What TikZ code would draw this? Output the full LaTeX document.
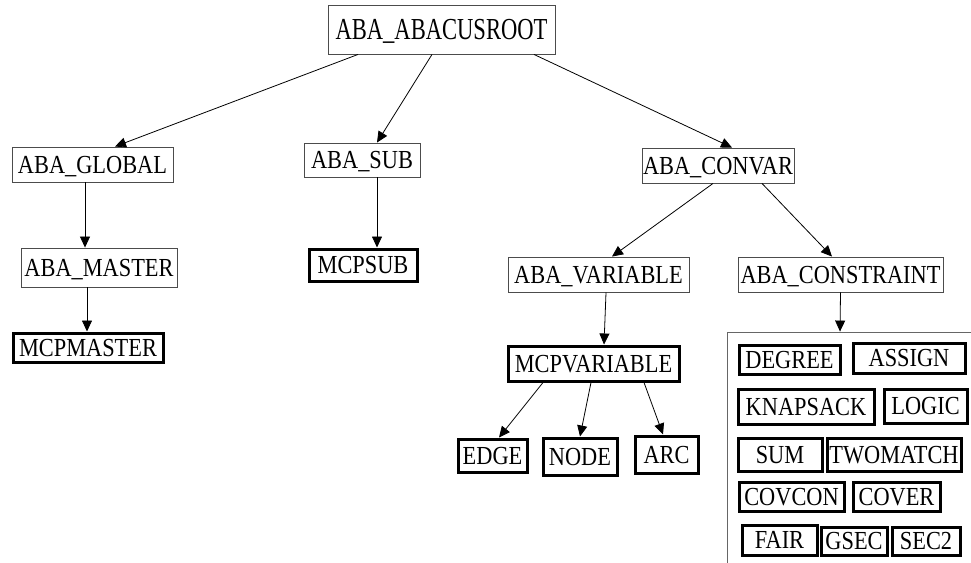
\documentclass[tikz,border=0pt]{standalone}
\usepackage{fontspec}
\newfontfamily\labelfont{Liberation Serif}[FakeStretch=0.86]
\newfontfamily\rootfont{Liberation Serif}[FakeStretch=0.74]
\usetikzlibrary{arrows.meta}
\tikzset{
  cls/.style={draw=black!70, line width=0.9pt, rectangle, inner sep=0pt,
    font=\labelfont\fontsize{26}{26}\selectfont, text height=17pt, text depth=0pt},
  leaf/.style={cls, draw=black, line width=3pt},
  group/.style={draw=black!60, line width=0.9pt, rectangle, inner sep=0pt},
  link/.style={draw=black, line width=0.8pt, -{Triangle[length=11pt,width=10pt]}}
}
\begin{document}
\begin{tikzpicture}[x=1pt, y=-1pt]
\useasboundingbox (0,0) rectangle (971,562);
\clip (0,0) rectangle (971,562);
% class hierarchy
\node[cls, minimum width=227pt, minimum height=49pt,
  font=\rootfont\fontsize{30.5}{30.5}\selectfont, text height=20pt]
  (root) at (441.5,29.5) {ABA\_ABACUSROOT};
\node[cls, minimum width=161pt, minimum height=35pt] (global) at (92.5,164.5) {ABA\_GLOBAL};
\node[cls, minimum width=116pt, minimum height=34pt] (sub) at (362,160) {ABA\_SUB};
\node[cls, minimum width=152pt, minimum height=35pt] (convar) at (718,165.5) {ABA\_CONVAR};
\node[cls, minimum width=156pt, minimum height=39pt] (master) at (99,267.5) {ABA\_MASTER};
\node[leaf, minimum width=108pt, minimum height=32pt] (mcpsub) at (363,265) {MCPSUB};
\node[leaf, minimum width=150pt, minimum height=29pt] (mcpmaster) at (88,347.5) {MCPMASTER};
\node[cls, minimum width=181pt, minimum height=35pt] (variable) at (598.5,274.5) {ABA\_VARIABLE};
\node[cls, minimum width=205pt, minimum height=35pt] (constraint) at (840.5,274.5) {ABA\_CONSTRAINT};
\node[leaf, minimum width=171pt, minimum height=35pt] (mcpvariable) at (593.5,363.5) {MCPVARIABLE};
\node[leaf, minimum width=69pt, minimum height=33pt] (edge) at (492.5,455.5) {EDGE};
\node[leaf, minimum width=74pt, minimum height=37pt] (nodeN) at (580,456.5) {NODE};
\node[leaf, minimum width=63pt, minimum height=37pt] (arc) at (666.5,454.5) {ARC};
% constraint classes group
\node[group, minimum width=253pt, minimum height=238pt] (cgroup) at (853.5,451) {};
\node[leaf, minimum width=101pt, minimum height=29pt] (degree) at (789.5,359.5) {DEGREE};
\node[leaf, minimum width=112pt, minimum height=30pt] (assign) at (909,358) {ASSIGN};
\node[leaf, minimum width=136pt, minimum height=35pt] (knapsack) at (806,406.5) {KNAPSACK};
\node[leaf, minimum width=83pt, minimum height=34pt] (logic) at (925.5,406) {LOGIC};
\node[leaf, minimum width=84pt, minimum height=33pt] (sum) at (780,454.5) {SUM};
\node[leaf, minimum width=134pt, minimum height=33pt] (twomatch) at (894,454.5) {TWOMATCH};
\node[leaf, minimum width=105pt, minimum height=29pt] (covcon) at (791.5,496.5) {COVCON};
\node[leaf, minimum width=87pt, minimum height=29pt] (cover) at (896.5,496.5) {COVER};
\node[leaf, minimum width=75pt, minimum height=30pt] (fair) at (779.5,540) {FAIR};
\node[leaf, minimum width=66pt, minimum height=28pt] (gsec) at (854,541) {GSEC};
\node[leaf, minimum width=68pt, minimum height=28pt] (sec2) at (926,541) {SEC2};
% inheritance links
\draw[link] ([xshift=-83.5pt]root.south) -- ([xshift=22.5pt]global.north);
\draw[link] ([xshift=-9.5pt]root.south) -- ([xshift=15pt]sub.north);
\draw[link] ([xshift=92.5pt]root.south) -- ([xshift=14pt]convar.north);
\draw[link] ([xshift=-7.5pt]global.south) -- ([xshift=-14pt]master.north);
\draw[link] ([xshift=-12pt]master.south) -- ([xshift=-1pt]mcpmaster.north);
\draw[link] ([xshift=15pt]sub.south) -- ([xshift=14pt]mcpsub.north);
\draw[link] ([xshift=-5pt]convar.south) -- ([xshift=13.5pt]variable.north);
\draw[link] ([xshift=44pt]convar.south) -- ([xshift=-8.5pt]constraint.north);
\draw[link] ([xshift=7.5pt]variable.south) -- ([xshift=10.5pt]mcpvariable.north);
\draw[link] (constraint.south) -- ([xshift=-13.5pt]cgroup.north);
\draw[link] ([xshift=-50.5pt]mcpvariable.south) -- ([xshift=6.5pt]edge.north);
\draw[link] ([xshift=-2.5pt]mcpvariable.south) -- (nodeN.north);
\draw[link] ([xshift=50.5pt]mcpvariable.south) -- ([xshift=-3.5pt]arc.north);
\end{tikzpicture}
\end{document}
